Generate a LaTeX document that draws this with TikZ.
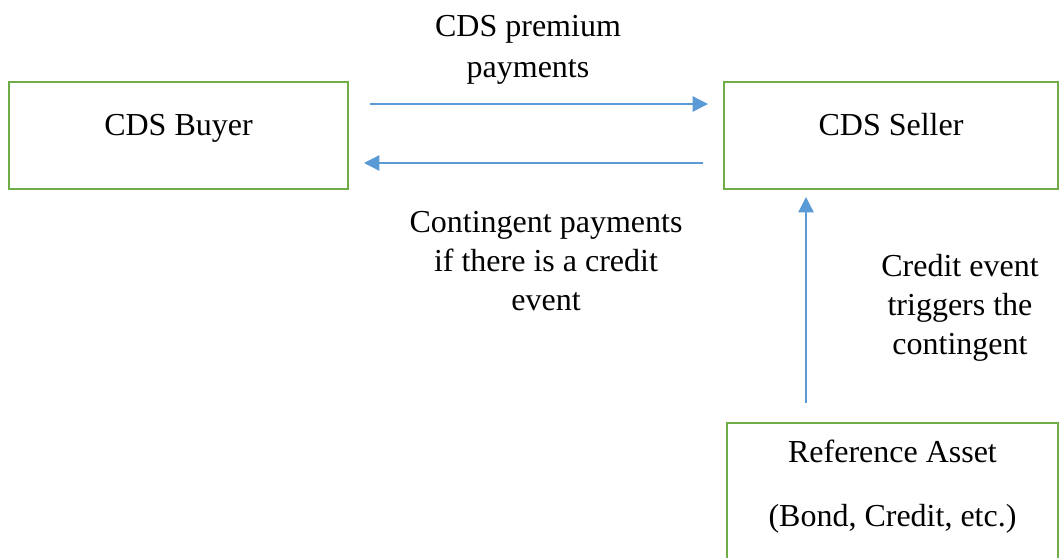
\documentclass[tikz,border=0pt]{standalone}
\usepackage{fontspec}
\setmainfont{Liberation Serif}
\usetikzlibrary{arrows.meta,calc}

\definecolor{boxgreen}{HTML}{70AD47}
\definecolor{flowblue}{HTML}{5B9BD5}

\tikzset{
  party/.style={draw=boxgreen, line width=2pt, rectangle, outer sep=0pt,
    inner sep=0pt, font=\fontsize{24}{29}\selectfont,
    text height=12pt, text depth=12pt},
  flow/.style={draw=flowblue, line width=1pt,
    -{Triangle[length=11.5pt,width=11.5pt]}},
  % multi-line captions are placed by the baseline of their last line
  caption/.style={font=\fontsize{24}{29}\selectfont, align=center,
    inner sep=0pt, anchor=base}
}

\begin{document}
\begin{tikzpicture}[x=0.75pt,y=-0.75pt]
  \useasboundingbox (0,0) rectangle (1060,557);
  \clip (0,0) rectangle (1060,557);

  % the two counterparties and the underlying asset
  \node[party, minimum width=339*0.75pt, minimum height=107*0.75pt]
    (buyer) at (178.5,135.5) {CDS Buyer};
  \node[party, minimum width=334*0.75pt, minimum height=107*0.75pt]
    (seller) at (891,135.5) {CDS Seller};
  \node[party, minimum width=331*0.75pt, minimum height=197*0.75pt,
        text height=0pt, text depth=0pt]
    (ref) at (892.5,521.5) {};
  \node[caption] (reftext) at (892.5,526)
    {Reference Asset\\[19pt](Bond, Credit, etc.)};

  % premium leg and contingent leg
  \coordinate (prem) at ($(buyer.east)+(0,-31.5)$);
  \coordinate (cont) at ($(seller.west)+(0,27.5)$);
  \draw[flow, shorten <=16.5pt, shorten >=12pt] (prem) -- (prem -| seller.west);
  \draw[flow, shorten <=15.75pt, shorten >=12pt] (cont) -- (cont -| buyer.east);

  % trigger from the reference asset
  \coordinate (trig) at ($(ref.north)+(-86.5,0)$);
  \draw[flow, shorten <=15pt, shorten >=6pt] (trig) -- (trig |- seller.south);

  % leg descriptions
  \node[caption] (premlabel) at (528,77) {CDS premium\\[1.75pt]payments};
  \node[caption] (contlabel) at (546,310)
    {Contingent payments\\if there is a credit\\event};
  \node[caption] (triglabel) at (960,354)
    {Credit event\\triggers the\\contingent};
\end{tikzpicture}
\end{document}
